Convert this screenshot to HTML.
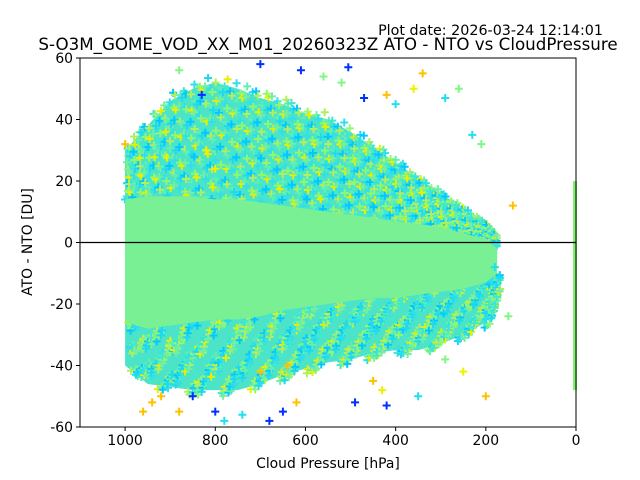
<!DOCTYPE html>
<html><head><meta charset="utf-8">
<style>
html,body{margin:0;padding:0;background:#fff;}
svg{display:block;font-family:"DejaVu Sans","Liberation Sans",sans-serif;}
</style></head>
<body>
<svg id="chart" width="640" height="480" viewBox="0 0 640 480">
  <text x="603" y="35" text-anchor="end" font-size="14.3">Plot date: 2026-03-24 12:14:01</text>
  <text x="328" y="50" text-anchor="middle" font-size="16.7">S-O3M_GOME_VOD_XX_M01_20260323Z ATO - NTO vs CloudPressure</text>
  <g id="marks"></g>
  <g id="axes"></g>
  <text x="328" y="468" text-anchor="middle" font-size="13.9">Cloud Pressure [hPa]</text>
  <text transform="translate(32,242) rotate(-90)" text-anchor="middle" font-size="13.9">ATO - NTO [DU]</text>
</svg>
<script>
// ---- data ----
const binPressure = [1000, 950, 900, 850, 800, 750, 700, 650, 600, 550, 500, 450, 400, 350, 300, 250, 200, 175];
const outerHigh   = [30, 38, 46, 50, 52, 50, 47, 45, 42, 40, 36, 31, 26, 21, 16, 11, 6, 2];
const outerLow    = [-40, -46, -47, -48, -48, -48, -46, -43, -41, -39, -38, -36, -35, -35, -33, -30, -26, -18];
const coreHigh    = [14, 15, 15, 15, 14, 14, 13, 12, 11, 10, 9, 8, 7, 6, 5, 3, 1, -2];
const coreLow     = [-26, -28, -27, -26, -25, -25, -24, -22, -21, -20, -19, -18, -18, -17, -16, -15, -13, -10];
const stripRange  = [-48, 20];
const outlierP = [700,505,470,830,610,850,800,650,680,490,420, 1000,340,700,640,920,880,450,200,620,140,420, 820,800,360,250,430, 400,290,230,200,350,180, 210,150,290,260,960,940,560,520,740,880,780];
const outlierV = [58,57,47,48,56,-50,-55,-55,-58,-52,-53, 32,55,-42,-40,-50,-55,-45,-50,-52,12,48, 30,24,50,-42,-48, 45,47,35,-25,-50,-8, 32,-24,-38,50,-55,-52,54,52,-56,56,-58];
const outlierC = [4,4,4,4,4,4,4,4,4,4,4, 0,0,0,0,0,0,0,0,0,0,0, 1,1,1,1,1, 3,3,3,3,3,3, 2,2,2,2,0,0,2,2,3,2,3];
const xTicks = [1000, 800, 600, 400, 200, 0];
const yTicks = [60, 40, 20, 0, -20, -40, -60];
// ---- axes ----
const L=80,R=576,T=58,B=427;
const xS = p => L + (1100 - p) * (R - L) / 1100;
const yS = v => T + (60 - v) * (B - T) / 120;
const palette = ['#ffc000','#f0f000','#80f880','#20e0f0','#0030ff'];
const speckle = ['#20d8f0','#60f0b0','#b0f060','#00c8ff','#40e8d0','#e8f000','#90f870','#30e0e8','#70f0a0'];
const NS='http://www.w3.org/2000/svg';
const marks=document.getElementById('marks'), axes=document.getElementById('axes');
function mk(tag, attrs, parent){const e=document.createElementNS(NS,tag);for(const k in attrs)e.setAttribute(k,attrs[k]);parent.appendChild(e);return e;}
function band(hi, lo, fill, name){
  let pts=binPressure.map((p,i)=>xS(p)+','+yS(hi[i]));
  for(let i=binPressure.length-1;i>=0;i--) pts.push(xS(binPressure[i])+','+yS(lo[i]));
  const e=mk('polygon',{points:pts.join(' '),fill:fill},marks);
  
  
}
function plus(x,y,c){
  const e=mk('path',{d:`M${x-4},${y}h8M${x},${y-4}v8`,stroke:c,'stroke-width':2},marks);
  
  
}
band(outerHigh, outerLow, '#4ce4c8', 'outer-scatter-band');
// speckle texture (decorative, deterministic jitter)
let n=0;
for(let i=0;i<binPressure.length-1;i++){
  for(let s=0;s<6;s++){
    for(let k=0;k<9;k++){
      const h=(i*131+s*71+k*37)%97/97;
      const h2=(i*53+s*29+k*83)%89/89;
      const f=(s+h2)/6;
      const p=binPressure[i]+(binPressure[i+1]-binPressure[i])*f;
      const oh=outerHigh[i]+(outerHigh[i+1]-outerHigh[i])*f, ch=coreHigh[i]+(coreHigh[i+1]-coreHigh[i])*f;
      const ol=outerLow[i]+(outerLow[i+1]-outerLow[i])*f, cl=coreLow[i]+(coreLow[i+1]-coreLow[i])*f;
      const fr=h*1.08;
      plus(xS(p), yS(ch+(oh-ch)*fr), speckle[(n++)%speckle.length]);
      plus(xS(p)+3, yS(cl-(cl-ol)*((fr*1.7+h2)%1.08)), speckle[(n+=4)%speckle.length]);
    }
  }
}
band(coreHigh, coreLow, '#7af094', 'core-scatter-band');
{
  const e=mk('rect',{x:xS(0)-3,y:yS(stripRange[1]),width:4,height:yS(stripRange[0])-yS(stripRange[1]),fill:'#80f070'},marks);
  
  
}
for(let i=0;i<outlierP.length;i++){
  plus(xS(outlierP[i]), yS(outlierV[i]), palette[outlierC[i]]);
}
{const e=mk('line',{x1:L,x2:R,y1:yS(0),y2:yS(0),stroke:'#000','stroke-width':1.2},axes);

}
{const e=mk('rect',{x:L,y:T,width:R-L,height:B-T,fill:'none',stroke:'#000','stroke-width':1},axes);

}
xTicks.forEach(t=>{
  const x=xS(t);
  mk('line',{x1:x,x2:x,y1:B,y2:B+4,stroke:'#000'},axes);
  const e=mk('text',{x:x,y:B+18,'text-anchor':'middle','font-size':13.9},axes);
  e.textContent=t;
  
  
});
yTicks.forEach(t=>{
  const y=yS(t);
  mk('line',{x1:L-4,x2:L,y1:y,y2:y,stroke:'#000'},axes);
  const e=mk('text',{x:L-7,y:y+5,'text-anchor':'end','font-size':13.9},axes);
  e.textContent=t;
  
  
});
</script>
</body></html>
